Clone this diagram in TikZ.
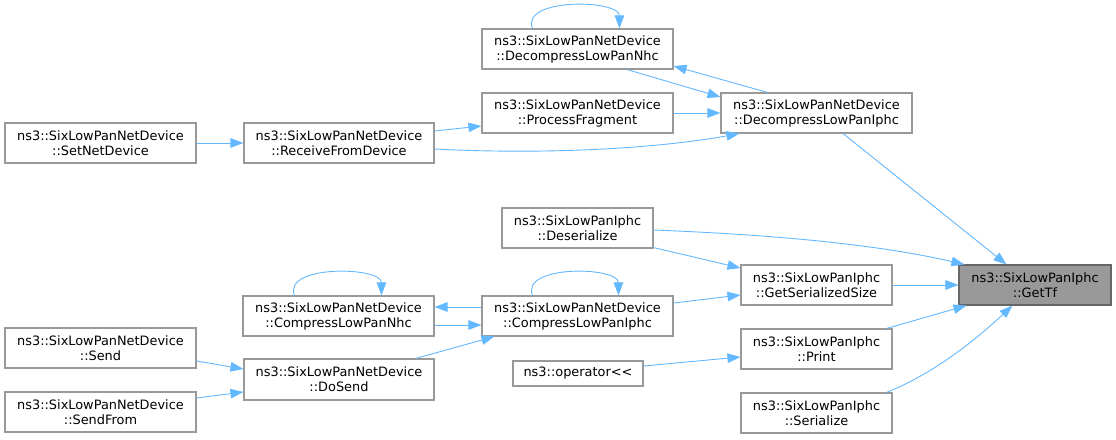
\documentclass[tikz,border=0pt]{standalone}
\usepackage{fontspec}
\setmainfont{DejaVu Sans}
\usetikzlibrary{calc,arrows.meta}
\definecolor{edgec}{HTML}{63B8FF}
\definecolor{boxc}{HTML}{999999}
\definecolor{rootb}{HTML}{666666}
\begin{document}
\begin{tikzpicture}[x=1pt,y=-1pt,
  fn/.style={draw=boxc,line width=1.1pt,fill=white,align=center,inner sep=0pt,minimum height=40pt,
    font=\fontsize{12.9}{15}\selectfont},
  root/.style={fn,fill=boxc,draw=rootb},
  call/.style={draw=edgec,line width=0.9pt,-{Triangle[length=13pt,width=9.5pt]},fill=none},
]
\useasboundingbox (0,0) rectangle (1116,439);
\node[fn,minimum width=191pt] (setnd) at (100.5,143) {ns3::SixLowPanNetDevice\\::SetNetDevice};
\node[fn,minimum width=190pt] (recv) at (339,143) {ns3::SixLowPanNetDevice\\::ReceiveFromDevice};
\node[fn,minimum width=191pt] (dnhc) at (577.5,49) {ns3::SixLowPanNetDevice\\::DecompressLowPanNhc};
\node[fn,minimum width=191pt] (proc) at (577.5,113) {ns3::SixLowPanNetDevice\\::ProcessFragment};
\node[fn,minimum width=191pt] (dlpi) at (816.5,113) {ns3::SixLowPanNetDevice\\::DecompressLowPanIphc};
\node[root,minimum width=152pt] (gettf) at (1035,285) {ns3::SixLowPanIphc\\::GetTf};
\node[fn,minimum width=151pt] (gss) at (816.5,285) {ns3::SixLowPanIphc\\::GetSerializedSize};
\node[fn,minimum width=151pt] (print) at (816.5,349) {ns3::SixLowPanIphc\\::Print};
\node[fn,minimum width=151pt] (ser) at (816.5,413) {ns3::SixLowPanIphc\\::Serialize};
\node[fn,minimum width=151pt] (deser) at (577.5,228) {ns3::SixLowPanIphc\\::Deserialize};
\node[fn,minimum width=191pt] (clpn) at (338.5,316) {ns3::SixLowPanNetDevice\\::CompressLowPanNhc};
\node[fn,minimum width=191pt] (clpi) at (577.5,316) {ns3::SixLowPanNetDevice\\::CompressLowPanIphc};
\node[fn,minimum width=130pt,minimum height=25pt] (op) at (578,373.5) {ns3::operator<{}<};
\node[fn,minimum width=190pt,minimum height=41pt] (dosend) at (339,379.5) {ns3::SixLowPanNetDevice\\::DoSend};
\node[fn,minimum width=191pt] (send) at (100.5,348) {ns3::SixLowPanNetDevice\\::Send};
\node[fn,minimum width=191pt] (sendfrom) at (100.5,412) {ns3::SixLowPanNetDevice\\::SendFrom};

\draw[call] (setnd.east) -- (recv.west);
\draw[call] ($(recv.east)+(0,-12)$) -- ($(proc.west)+(0,13)$);
\draw[call] ($(recv.east)+(0,6)$) .. controls (550,155) and (660,148) .. ($(dlpi.south west)+(19,0)$);
\draw[call] (proc.east) -- (dlpi.west);
\draw[call] ($(dnhc.south)+(49.5,0)$) -- ($(dlpi.west)+(0,-16)$);
\draw[call] ($(dlpi.north west)+(47,0)$) -- ($(dnhc.east)+(0,17)$);
\draw[call] ($(dnhc.north west)+(51,0)$) .. controls +(-12,-31) and +(0,-29) .. ($(dnhc.north west)+(138,0)$);
\draw[call] ($(dlpi.south)+(26.5,0)$) -- ($(gettf.north west)+(48,0)$);
\draw[call] ($(deser.east)+(0,2)$) .. controls (780,235) and (880,245) .. ($(gettf.north west)+(6,0)$);
\draw[call] ($(deser.south east)+(0,-1)$) -- ($(gss.west)+(0,-17)$);
\draw[call] (gss.east) -- (gettf.west);
\draw[call] ($(clpi.east)+(0,-13)$) -- ($(gss.west)+(0,10)$);
\draw[call] ($(clpi.north west)+(51,0)$) .. controls +(-12,-31) and +(0,-29) .. ($(clpi.north west)+(137,0)$);
\draw[call] ($(clpi.west)+(0,-9)$) -- ($(clpn.east)+(0,-9)$);
\draw[call] ($(clpn.east)+(0,9)$) -- ($(clpi.west)+(0,9)$);
\draw[call] ($(clpn.north west)+(52,0)$) .. controls +(-12,-31) and +(0,-29) .. ($(clpn.north west)+(139,0)$);
\draw[call] ($(dosend.north east)+(-19,0)$) -- ($(clpi.south west)+(13,0)$);
\draw[call] ($(send.east)+(0,13)$) -- ($(dosend.west)+(0,-10.5)$);
\draw[call] ($(sendfrom.east)+(0,-14)$) -- ($(dosend.west)+(0,12.5)$);
\draw[call] ($(op.east)+(0,-7.5)$) -- ($(print.west)+(0,8)$);
\draw[call] ($(print.north east)+(-6,0)$) -- ($(gettf.south west)+(8,0)$);
\draw[call] ($(ser.north east)+(-6,0)$) .. controls (930,375) and (970,345) .. ($(gettf.south west)+(54,0)$);
\end{tikzpicture}
\end{document}
